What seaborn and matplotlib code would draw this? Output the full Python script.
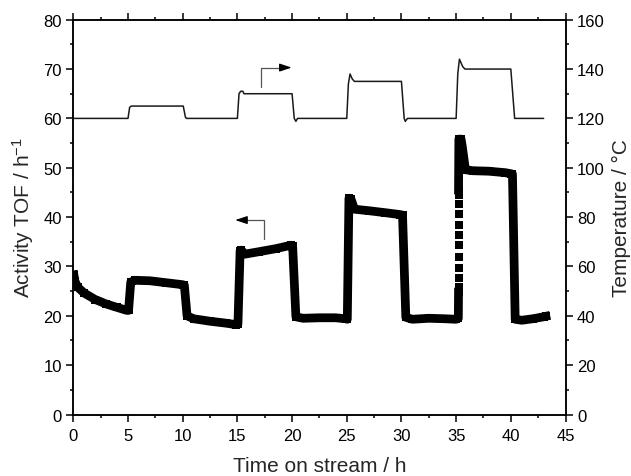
import matplotlib
matplotlib.use('Agg')
import matplotlib.pyplot as plt
from matplotlib.ticker import MultipleLocator
import seaborn as sns

# activity (TOF / h^-1), continuous part up to the start of the 35 h step
act_t1 = [0.05, 0.15, 0.4, 1.0, 2.0, 3.0, 4.0, 4.9, 5.05, 5.25, 5.6, 7.0, 8.5, 10.0, 10.15,
          10.4, 11.0, 12.5, 14.0, 14.9, 15.05, 15.25, 15.35, 15.7, 17.0, 18.5, 19.9, 20.05,
          20.35, 21.0, 22.5, 24.0, 24.9, 25.05, 25.2, 25.4, 25.7, 27.0, 28.5, 29.9, 30.1,
          30.4, 31.0, 32.5, 34.0, 35.0, 35.2, 35.22]
act_y1 = [28.3, 27.0, 25.8, 24.6, 23.3, 22.4, 21.7, 21.1, 21.1, 26.8, 27.2, 27.1, 26.7, 26.3, 26.2,
          20.0, 19.4, 18.9, 18.5, 18.2, 18.3, 33.2, 33.3, 32.5, 33.0, 33.6, 34.3, 34.2,
          19.8, 19.5, 19.6, 19.6, 19.4, 19.3, 43.8, 43.6, 41.6, 41.3, 40.9, 40.5, 40.4,
          19.7, 19.3, 19.5, 19.4, 19.3, 19.5, 24.8]

# single points logged during the fast rise at 35 h
rise_t = [35.22, 35.22, 35.22, 35.22, 35.22, 35.22, 35.22, 35.22, 35.22, 35.22]
rise_y = [25.9, 27.7, 29.7, 32.0, 34.3, 36.4, 38.4, 40.6, 42.6, 44.5]

# activity after the rise
act_t2 = [35.22, 35.25, 35.45, 35.55, 35.85, 36.5, 38.0, 39.5, 40.0, 40.15, 40.4, 41.0, 42.0, 43.0, 43.2]
act_y2 = [45.5, 55.8, 55.8, 54.5, 49.6, 49.4, 49.3, 49.0, 48.8, 48.7, 19.3, 19.1, 19.4, 19.8, 19.9]

# reactor temperature / °C
temp_t = [0, 5.0, 5.15, 5.3, 10.05, 10.25, 10.35, 15.0, 15.15, 15.3, 15.5, 15.6, 20.0, 20.2,
          20.35, 20.5, 25.0, 25.15, 25.3, 25.5, 25.7, 30.0, 30.25, 30.35, 30.55, 35.0, 35.15,
          35.3, 35.6, 35.8, 40.0, 40.35, 43.0]
temp_c = [120, 120, 124.5, 125, 125, 120.5, 120, 120, 130, 131, 131, 130, 130, 120,
          118.8, 120, 120, 134, 138, 136, 135, 135, 120, 118.8, 120, 120, 138,
          144, 141, 140, 140, 120, 120]

sns.set_style('ticks')
plt.rcParams['font.family'] = ['Liberation Sans', 'DejaVu Sans']
plt.rcParams['mathtext.fontset'] = 'custom'
plt.rcParams['mathtext.rm'] = 'Liberation Sans'
plt.rcParams['mathtext.it'] = 'Liberation Sans:italic'
plt.rcParams['axes.edgecolor'] = 'black'
plt.rcParams['xtick.color'] = 'black'
plt.rcParams['ytick.color'] = 'black'

fig = plt.figure(figsize=(6.31, 4.77), dpi=100)
ax = fig.add_axes([0.1162, 0.1289, 0.78, 0.8277])
ax2 = ax.twinx()

line_kw = dict(color='black', linewidth=6.3, sort=False, estimator=None,
               marker='s', markersize=6.3, markeredgewidth=0,
               solid_capstyle='projecting', solid_joinstyle='round')
sns.lineplot(x=act_t1, y=act_y1, ax=ax, **line_kw)
sns.lineplot(x=act_t2, y=act_y2, ax=ax, **line_kw)
sns.scatterplot(x=rise_t, y=rise_y, ax=ax, marker='s', s=32, color='black', linewidth=0)
sns.lineplot(x=temp_t, y=temp_c, ax=ax2, color='#1a1a1a', linewidth=1.1, sort=False,
             estimator=None)

# arrows telling which curve belongs to which axis
ax.plot([17.45, 17.45, 15.8], [35.6, 39.4, 39.4], color='#555555', lw=0.9)
ax.annotate('', xy=(14.8, 39.4), xytext=(15.9, 39.4),
            arrowprops=dict(arrowstyle='-|>,head_length=0.6,head_width=0.2',
                            color='black', lw=0.9, mutation_scale=12, shrinkA=0, shrinkB=0))
ax.plot([17.18, 17.18, 19.0], [66.3, 70.3, 70.3], color='#555555', lw=0.9)
ax.annotate('', xy=(19.96, 70.3), xytext=(18.9, 70.3),
            arrowprops=dict(arrowstyle='-|>,head_length=0.6,head_width=0.2',
                            color='black', lw=0.9, mutation_scale=12, shrinkA=0, shrinkB=0))

ax.set_xlim(0, 45)
ax.set_ylim(0, 80)
ax2.set_ylim(0, 160)
ax.xaxis.set_major_locator(MultipleLocator(5))
ax.xaxis.set_minor_locator(MultipleLocator(2.5))
ax.yaxis.set_major_locator(MultipleLocator(10))
ax.yaxis.set_minor_locator(MultipleLocator(5))
ax2.yaxis.set_major_locator(MultipleLocator(20))
ax2.yaxis.set_minor_locator(MultipleLocator(10))

for a in (ax, ax2):
    for s in a.spines.values():
        s.set_linewidth(1.1)
        s.set_color('black')
    a.tick_params(which='major', length=4.8, width=1.1, labelsize=12, pad=3.5)
    a.tick_params(which='minor', length=2.5, width=1.1)
ax.tick_params(which='both', direction='out', top=True, right=False, labeltop=False)
ax2.tick_params(which='both', direction='out', left=False, right=True)
ax.tick_params(axis='x', which='major', pad=5)

ax.set_xlabel('Time on stream / h', fontsize=15, labelpad=9)
ax.set_ylabel('Activity TOF / h$^{-1}$', fontsize=15, labelpad=5)
ax2.set_ylabel('Temperature / °C', fontsize=15, rotation=90, labelpad=5)

fig.savefig('out.png', dpi=100)
